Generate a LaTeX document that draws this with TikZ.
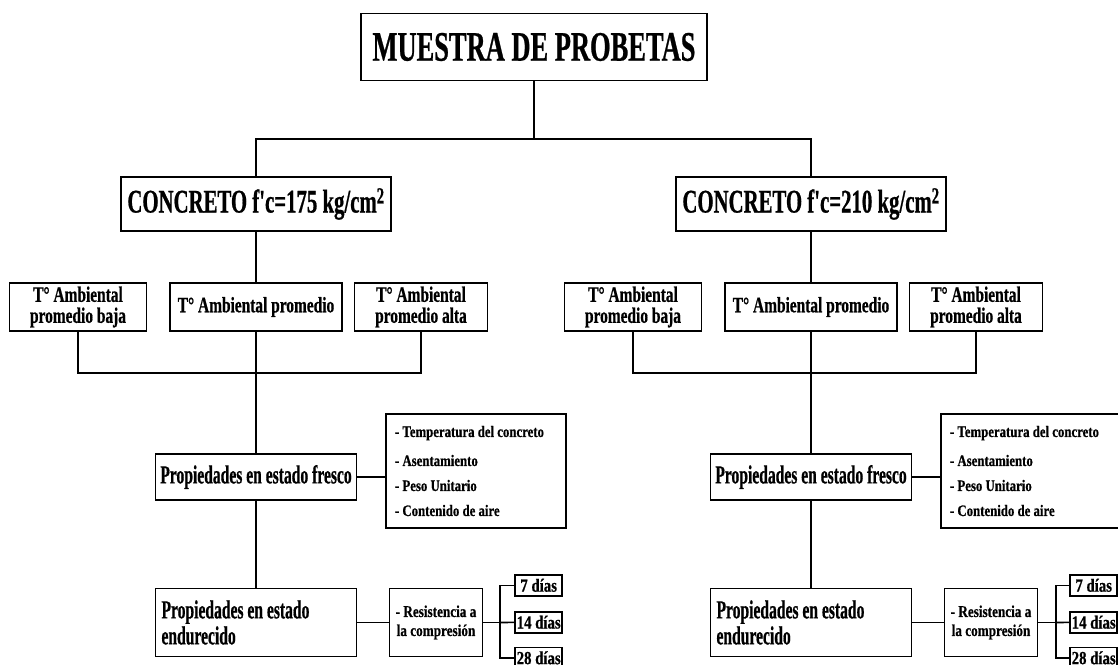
\documentclass[tikz,border=0pt]{standalone}
\usepackage{fontspec}
\setmainfont{Liberation Serif}
\newfontfamily\letraTitulo{Liberation Serif}[FakeStretch=0.63, FakeBold=0.6]
\newfontfamily\letraTemp{Liberation Serif}[FakeStretch=0.70, FakeBold=0.6]
\newfontfamily\letraProp{Liberation Serif}[FakeStretch=0.60, FakeBold=0.6]
\newfontfamily\letraLista{Liberation Serif}[FakeStretch=0.80, FakeBold=0.6]

\begin{document}
\begin{tikzpicture}[
    x=1pt, y=-1pt,
    line width=1.6pt,
    every node/.style={draw, line width=1.6pt, fill=white, inner sep=0pt, align=center},
    titulo/.style={minimum width=346pt, minimum height=67pt,
        font={\letraTitulo\bfseries\fontsize{42}{44}\selectfont}},
    concreto/.style={minimum width=270pt, minimum height=54pt,
        font={\letraTitulo\bfseries\fontsize{33}{34}\selectfont}},
    temp/.style={minimum height=48pt,
        font={\letraTemp\bfseries\fontsize{22}{21}\selectfont}},
    prop/.style={minimum width=201pt,
        font={\letraProp\bfseries\fontsize{26}{26}\selectfont}},
    lista/.style={minimum width=180pt, minimum height=114pt, align=flush left, text width=162pt,
        font={\letraLista\bfseries\fontsize{16}{25}\selectfont}},
    resist/.style={minimum width=93pt, minimum height=68pt,
        font={\letraLista\bfseries\fontsize{16.5}{19}\selectfont}},
    dia/.style={minimum width=47pt, minimum height=21pt,
        font={\letraLista\bfseries\fontsize{18.5}{18}\selectfont}}]

    \useasboundingbox (0,0) rectangle (1118,664);
    \clip (0,0) rectangle (1118,664);

    \node[titulo] (muestra) at (534,47) {MUESTRA DE PROBETAS};
    \node[concreto] (conc175) at (256,204) {CONCRETO f'c=175 kg/cm\textsuperscript{2}};
    \node[concreto] (conc210) at (811,204) {CONCRETO f'c=210 kg/cm\textsuperscript{2}};
    \coordinate (rama) at (534,139);
    \draw (muestra) -- (rama);
    \draw (conc175) |- (rama) -| (conc210);

    % f'c = 175
    \node[temp, minimum width=137pt] (baja175) at (78,307) {T° Ambiental\\promedio baja};
    \node[temp, minimum width=172pt] (prom175) at (256,307) {T° Ambiental promedio};
    \node[temp, minimum width=133pt] (alta175) at (421,307) {T° Ambiental\\promedio alta};
    \coordinate (une175) at (256,373);
    \draw (conc175) -- (prom175);
    \draw (baja175) |- (une175) -| (alta175);

    \node[prop, minimum height=46pt] (fresco175) at (256,477) {Propiedades en estado fresco};
    \node[lista] (ensayos175) at (476,471) {- Temperatura del concreto\\[4pt]
        - Asentamiento\\ - Peso Unitario\\ - Contenido de aire};
    \draw (prom175) -- (fresco175);
    \draw (fresco175.east) -- (fresco175.east -| ensayos175.west);

    \node[prop, minimum height=68pt, align=flush left, text width=189pt] (endur175) at (256,622.5)
        {Propiedades en estado\\endurecido};
    \node[resist] (compr175) at (436,622.5) {- Resistencia a\\la compresión};
    \draw (fresco175) -- (endur175);
    \draw (endur175) -- (compr175);

    \node[dia] (d7a) at (538.7,585.3) {7 días};
    \node[dia] (d14a) at (538.7,622.2) {14 días};
    \node[dia] (d28a) at (538.7,657.8) {28 días};
    \coordinate (edad175) at (500,622.5);
    \draw (compr175) -- (edad175);
    \draw (d7a) -| (edad175) |- (d28a);
    \draw (edad175) -- (d14a);

    % f'c = 210
    \node[temp, minimum width=137pt] (baja210) at (633,307) {T° Ambiental\\promedio baja};
    \node[temp, minimum width=172pt] (prom210) at (811,307) {T° Ambiental promedio};
    \node[temp, minimum width=133pt] (alta210) at (976,307) {T° Ambiental\\promedio alta};
    \coordinate (une210) at (811,373);
    \draw (conc210) -- (prom210);
    \draw (baja210) |- (une210) -| (alta210);

    \node[prop, minimum height=46pt] (fresco210) at (811,477) {Propiedades en estado fresco};
    \node[lista] (ensayos210) at (1031,471) {- Temperatura del concreto\\[4pt]
        - Asentamiento\\ - Peso Unitario\\ - Contenido de aire};
    \draw (prom210) -- (fresco210);
    \draw (fresco210.east) -- (fresco210.east -| ensayos210.west);

    \node[prop, minimum height=68pt, align=flush left, text width=189pt] (endur210) at (811,622.5)
        {Propiedades en estado\\endurecido};
    \node[resist] (compr210) at (991,622.5) {- Resistencia a\\la compresión};
    \draw (fresco210) -- (endur210);
    \draw (endur210) -- (compr210);

    \node[dia] (d7b) at (1093.7,585.3) {7 días};
    \node[dia] (d14b) at (1093.7,622.2) {14 días};
    \node[dia] (d28b) at (1093.7,657.8) {28 días};
    \coordinate (edad210) at (1056,622.5);
    \draw (compr210) -- (edad210);
    \draw (d7b) -| (edad210) |- (d28b);
    \draw (edad210) -- (d14b);

\end{tikzpicture}
\end{document}
